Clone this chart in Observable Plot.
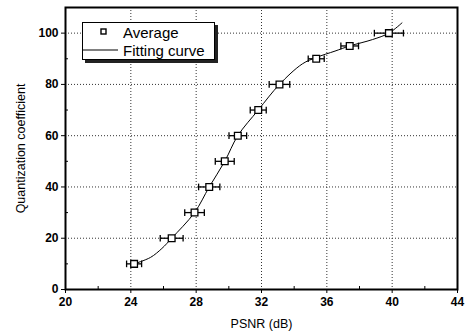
<!DOCTYPE html>
<html><head><meta charset="utf-8">
<script src="https://cdn.jsdelivr.net/npm/d3@7"></script>
<script src="https://cdn.jsdelivr.net/npm/@observablehq/plot@0.6"></script>
<style>
body{margin:0;background:#fff;font-family:"Liberation Sans",Arial,sans-serif;}
#wrap{position:relative;width:465px;height:333px;}
#legend{position:absolute;left:82px;top:22px;width:131px;height:36px;border:1.5px solid #000;background:#fff;box-shadow:3px 3px 0 #222;font-size:15px;color:#000;}
.row{position:absolute;left:0;height:18px;display:flex;align-items:center;}
</style>
</head><body>
<div id="wrap"></div>
<script>
// Average points (PSNR in dB, quantization coefficient) and PSNR error half-widths
const psnr = [24.2, 26.5, 27.9, 28.8, 29.75, 30.55, 31.8, 33.1, 35.35, 37.4, 39.8];
const qcoef = [10, 20, 30, 40, 50, 60, 70, 80, 90, 95, 100];
const psnrErr = [0.46, 0.7, 0.6, 0.65, 0.58, 0.54, 0.49, 0.63, 0.49, 0.54, 0.89];
// Fitting curve samples
const fitX = [24.2, 25.2, 25.9, 26.5, 27.9, 28.8, 29.75, 30.55, 31.8, 33.1, 34.5, 35.35, 36.5, 37.4, 38.8, 39.8, 40.6];
const fitY = [10, 12.5, 16, 20, 30, 40, 50, 60, 70, 80, 88, 90.5, 93, 95, 97.5, 100, 104];
const xTicks = [20, 24, 28, 32, 36, 40, 44];
const xMinor = [22, 26, 30, 34, 38, 42];
const yTicks = [0, 20, 40, 60, 80, 100];
const yMinor = [10, 30, 50, 70, 90];
const legendLabels = ["Average", "Fitting curve"];

const avg = psnr.map((x, i) => ({x, y: qcoef[i], e: psnrErr[i]}));
const fit = fitX.map((x, i) => ({x, y: fitY[i]}));
const capH = 1.3;

const chart = Plot.plot({
  width: 465, height: 333,
  marginLeft: 65, marginRight: 8, marginTop: 7, marginBottom: 44,
  style: {fontFamily: "'Liberation Sans', Arial, sans-serif", background: "#fff", color: "#000"},
  x: {domain: [20, 44]},
  y: {domain: [0, 110]},
  marks: [
    Plot.ruleX(xTicks.slice(1, -1), {stroke: "#333", strokeWidth: 1, strokeDasharray: "1,2"}),
    Plot.ruleY(yTicks.slice(1), {stroke: "#333", strokeWidth: 1, strokeDasharray: "1,2"}),
    Plot.axisX({ticks: xTicks, tickSize: 4, tickPadding: 4, fontSize: 12, fontWeight: "bold", label: "PSNR (dB)", labelAnchor: "center", labelArrow: "none", labelOffset: 38}),
    Plot.axisX({ticks: xMinor, tickSize: -3, text: null, label: null}),
    Plot.axisY({ticks: yTicks, tickSize: 4, tickPadding: 3, fontSize: 12, fontWeight: "bold", label: "Quantization coefficient", labelAnchor: "center", labelArrow: "none", labelOffset: 49}),
    Plot.axisY({ticks: yMinor, tickSize: -3, text: null, label: null}),
    Plot.line(fit, {x: "x", y: "y", curve: "catmull-rom", stroke: "#000", strokeWidth: 1}),
    Plot.link(avg, {x1: d => d.x - d.e, x2: d => d.x + d.e, y1: "y", y2: "y", stroke: "#000", strokeWidth: 1.3}),
    Plot.link(avg, {x1: d => d.x - d.e, x2: d => d.x - d.e, y1: d => d.y - capH, y2: d => d.y + capH, stroke: "#000", strokeWidth: 1.3}),
    Plot.link(avg, {x1: d => d.x + d.e, x2: d => d.x + d.e, y1: d => d.y - capH, y2: d => d.y + capH, stroke: "#000", strokeWidth: 1.3}),
    Plot.dot(avg, {x: "x", y: "y", symbol: "square", r: 3.8, fill: "#fff", stroke: "#000", strokeWidth: 1.3}),
    Plot.frame({stroke: "#000", strokeWidth: 2})
  ]
});
chart.querySelectorAll("[aria-label='x-axis label'] text, [aria-label='y-axis label'] text").forEach(t => {
  t.setAttribute("font-size", "12.5"); t.style.fontSize = "12.5px"; t.style.fontWeight = "normal";
});
const wrap = document.getElementById("wrap");
wrap.appendChild(chart);

const lg = document.createElement("div");
lg.id = "legend";
lg.innerHTML = `
<div class="row" style="top:0px;left:16px;"><svg width="10" height="10"><rect x="2" y="2" width="5" height="5" fill="#fff" stroke="#000" stroke-width="1.4"/></svg><span style="margin-left:14px">${legendLabels[0]}</span></div>
<div class="row" style="top:18px;left:0px;"><svg width="36" height="10"><line x1="0" y1="5" x2="35" y2="5" stroke="#000" stroke-width="1"/></svg><span style="margin-left:4px">${legendLabels[1]}</span></div>`;
wrap.appendChild(lg);
</script>
</body></html>
